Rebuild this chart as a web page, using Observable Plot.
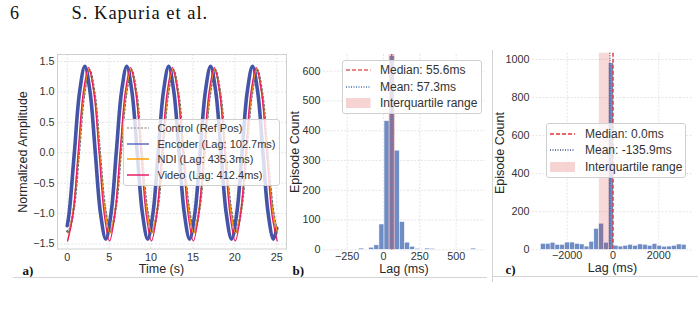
<!DOCTYPE html>
<html><head><meta charset="utf-8">
<script src="https://cdn.jsdelivr.net/npm/d3@7"></script>
<script src="https://cdn.jsdelivr.net/npm/@observablehq/plot@0.6"></script>
<style>
body{margin:0;background:#fff;}
#page{position:relative;width:698px;height:313px;overflow:hidden;font-family:"Liberation Sans",Arial,sans-serif;color:#262626;}
#page svg{overflow:visible;}
</style></head><body><div id="page"></div>
<script>
// ---------- Panel a: time series ----------
const timeTicks = [0, 5, 10, 15, 20, 25];
const ampTicks = [-1.5, -1.0, -0.5, 0.0, 0.5, 1.0, 1.5];
const seriesNames = ["Control (Ref Pos)", "Encoder (Lag: 102.7ms)", "NDI (Lag: 435.3ms)", "Video (Lag: 412.4ms)"];

const ctlT = [0, 0.15, 0.775, 1.4, 2.025, 2.65, 3.275, 3.9, 4.525, 5.15, 5.775, 6.4, 7.025, 7.65, 8.275, 8.9, 9.525, 10.15, 10.775, 11.4, 12.025, 12.65, 13.275, 13.9, 14.525, 15.15, 15.775, 16.4, 17.025, 17.65, 18.275, 18.9, 19.525, 20.15, 20.775, 21.4, 22.025, 22.65, 23.275, 23.9, 24.525, 25.0];
const ctlV = [-1.29, -1.30, -0.92, 0, 0.96, 1.36, 0.96, 0, -0.92, -1.30, -0.92, 0, 0.96, 1.36, 0.96, 0, -0.92, -1.30, -0.92, 0, 0.96, 1.36, 0.96, 0, -0.92, -1.30, -0.92, 0, 0.96, 1.36, 0.96, 0, -0.92, -1.30, -0.92, 0, 0.96, 1.36, 0.96, 0, -0.92, -1.28];

const encT = [0, 0.225, 0.85, 1.475, 2.1, 2.725, 3.35, 3.975, 4.6, 5.225, 5.85, 6.475, 7.1, 7.725, 8.35, 8.975, 9.6, 10.225, 10.85, 11.475, 12.1, 12.725, 13.35, 13.975, 14.6, 15.225, 15.85, 16.475, 17.1, 17.725, 18.35, 18.975, 19.6, 20.225, 20.85, 21.475, 22.1, 22.725, 23.35, 23.975, 24.6, 25.0];
const encV = [-1.2, -1.0, 0, 1.0, 1.42, 1.0, 0, -1.0, -1.42, -1.0, 0, 1.0, 1.42, 1.0, 0, -1.0, -1.42, -1.0, 0, 1.0, 1.42, 1.0, 0, -1.0, -1.42, -1.0, 0, 1.0, 1.42, 1.0, 0, -1.0, -1.42, -1.0, 0, 1.0, 1.42, 1.0, 0, -1.0, -1.42, -1.24];

const ndiT = [0.1, 0.725, 1.35, 1.975, 2.6, 3.225, 3.85, 4.475, 5.1, 5.725, 6.35, 6.975, 7.6, 8.225, 8.85, 9.475, 10.1, 10.725, 11.35, 11.975, 12.6, 13.225, 13.85, 14.475, 15.1, 15.725, 16.35, 16.975, 17.6, 18.225, 18.85, 19.475, 20.1, 20.725, 21.35, 21.975, 22.6, 23.225, 23.85, 24.475, 25.1];
const ndiV = [-1.42, -0.94, 0, 0.97, 1.37, 0.97, 0, -0.94, -1.32, -0.94, 0, 0.97, 1.37, 0.97, 0, -0.94, -1.32, -0.94, 0, 0.97, 1.37, 0.97, 0, -0.94, -1.32, -0.94, 0, 0.97, 1.37, 0.97, 0, -0.94, -1.32, -0.94, 0, 0.97, 1.37, 0.97, 0, -0.94, -1.32];

const vidT = [0.05, 0.675, 1.3, 1.925, 2.55, 3.175, 3.8, 4.425, 5.05, 5.675, 6.3, 6.925, 7.55, 8.175, 8.8, 9.425, 10.05, 10.675, 11.3, 11.925, 12.55, 13.175, 13.8, 14.425, 15.05, 15.675, 16.3, 16.925, 17.55, 18.175, 18.8, 19.425, 20.05, 20.675, 21.3, 21.925, 22.55, 23.175, 23.8, 24.425, 25.05];
const vidV = [-1.45, -1.02, 0, 1.0, 1.40, 1.0, 0, -1.02, -1.45, -1.02, 0, 1.0, 1.40, 1.0, 0, -1.02, -1.45, -1.02, 0, 1.0, 1.40, 1.0, 0, -1.02, -1.45, -1.02, 0, 1.0, 1.40, 1.0, 0, -1.02, -1.45, -1.02, 0, 1.0, 1.40, 1.0, 0, -1.02, -1.45];

// ---------- Panel b: encoder lag histogram ----------
const bEdges = [-343, -308, -273, -238, -203, -168, -133, -98, -63, -28, 7, 42, 77, 112, 147, 182, 217, 252, 287, 322, 357, 392, 427, 462, 497, 532, 567, 602, 637];
const bCounts = [1, 0, 0, 0, 0, 4, 0, 7, 15, 85, 432, 650, 333, 93, 24, 10, 3, 0, 4, 3, 0, 0, 0, 0, 0, 0, 0, 4];
const bXTicks = [-250, 0, 250, 500];
const bYTicks = [0, 100, 200, 300, 400, 500, 600];
const bMedian = 55.6, bMean = 57.3, bIQR = [38, 82];
const bLabels = ["Median: 55.6ms", "Mean: 57.3ms", "Interquartile range"];

// ---------- Panel c: video lag histogram ----------
const cEdges = [-3148, -2936, -2724, -2512, -2300, -2088, -1876, -1664, -1452, -1240, -1028, -816, -604, -392, -180, 32, 244, 456, 668, 880, 1092, 1304, 1516, 1728, 1940, 2152, 2364, 2576, 2788, 3000, 3212];
const cCounts = [31, 31, 37, 26, 26, 38, 38, 31, 28, 17, 42, 110, 137, 37, 980, 21, 17, 21, 26, 21, 28, 26, 21, 30, 21, 16, 17, 21, 28, 26];
const cXTicks = [-2000, 0, 2000];
const cYTicks = [0, 200, 400, 600, 800, 1000];
const cMedian = 0.0, cMean = -135.9, cIQR = [-598, -125];
const cLabels = ["Median: 0.0ms", "Mean: -135.9ms", "Interquartile range"];

// ---------- helpers ----------
const page = document.getElementById("page");
const SANS = '"Liberation Sans", Arial, sans-serif';
const SERIF = '"Liberation Serif", "Times New Roman", serif';
const GRID = "#dedede";
const BAR = "#6f8dc4";
const minus = d => d < 0 ? "\u2212" + Math.abs(d) : String(d);

function txt(s, x, y, o = {}) {
  const d = document.createElement("div");
  d.textContent = s;
  d.style.cssText = `position:absolute;left:${x}px;top:${y}px;white-space:nowrap;line-height:1;` +
    `font-size:${o.size || 12}px;font-family:${o.font || SANS};color:${o.color || "#262626"};` +
    `font-weight:${o.weight || "normal"};letter-spacing:${o.ls || 0}px;transform:${o.tf || "translate(-50%,-50%)"};transform-origin:center;`;
  page.appendChild(d);
}
function hline(x1, x2, y) {
  const d = document.createElement("div");
  d.style.cssText = `position:absolute;left:${x1}px;top:${y}px;width:${x2 - x1}px;height:1px;background:#d4d4d4;`;
  page.appendChild(d);
}
function vline(x, y1, y2) {
  const d = document.createElement("div");
  d.style.cssText = `position:absolute;left:${x}px;top:${y1}px;width:1px;height:${y2 - y1}px;background:#d4d4d4;`;
  page.appendChild(d);
}
function place(svg, left, top) {
  svg.style.position = "absolute";
  svg.style.left = left + "px";
  svg.style.top = top + "px";
  page.appendChild(svg);
}
function legend(box, rows, o) {
  const b = document.createElement("div");
  b.style.cssText = `position:absolute;left:${box[0]}px;top:${box[1]}px;width:${box[2]}px;height:${box[3]}px;` +
    `background:rgba(255,255,255,0.8);border:1px solid #d0d0d0;border-radius:3px;box-sizing:border-box;`;
  page.appendChild(b);
  rows.forEach((r, i) => {
    const y = o.rowY[i];
    const w = o.sx1 - o.sx0;
    const s = document.createElementNS("http://www.w3.org/2000/svg", "svg");
    s.setAttribute("width", w); s.setAttribute("height", 14);
    s.style.cssText = `position:absolute;left:${o.sx0}px;top:${y - 7}px;overflow:visible;`;
    if (r.type === "rect") {
      s.innerHTML = `<rect x="0" y="2" width="${w}" height="10" fill="${r.color}" fill-opacity="${r.op || 1}"/>`;
    } else {
      s.innerHTML = `<line x1="0" x2="${w}" y1="7" y2="7" stroke="${r.color}" stroke-width="${r.width || 1.5}" stroke-dasharray="${r.dash || "none"}"/>`;
    }
    page.appendChild(s);
    txt(r.label, o.tx, y, {size: o.size, tf: "translate(0,-50%)", color: "#333"});
  });
}
const pts = (T, V) => T.map((t, i) => ({t, v: V[i]}));
const bins = (E, C) => C.map((n, i) => ({x1: E[i], x2: E[i + 1], n}));

// ---------- header ----------
txt("6", 10, 13, {font: SERIF, size: 18, tf: "translate(0,-50%)", color: "#111"});
txt("S. Kapuria et al.", 71.5, 13, {font: SERIF, size: 18.5, tf: "translate(0,-50%)", color: "#111", ls: 1.0});

// ---------- panel a ----------
const fmtA = d => (d < 0 ? "\u2212" : "") + Math.abs(d).toFixed(1);
const pa = Plot.plot({
  width: 290, height: 240,
  marginLeft: 57, marginRight: 4, marginTop: 14, marginBottom: 31.5,
  style: {fontFamily: SANS, fontSize: "10.8px", color: "#333", background: "transparent"},
  x: {domain: [-1.16, 26.16], ticks: timeTicks, tickFormat: d => String(d), tickSize: 0, tickPadding: 4, label: null},
  y: {domain: [-1.582, 1.615], ticks: ampTicks, tickFormat: fmtA, tickSize: 0, tickPadding: 3, label: null},
  marks: [
    Plot.ruleX(timeTicks, {stroke: GRID, strokeWidth: 0.8, strokeDasharray: "2,1.5"}),
    Plot.ruleY(ampTicks, {stroke: GRID, strokeWidth: 0.8, strokeDasharray: "2,1.5"}),
    Plot.frame({stroke: "#cfcfcf"}),
    Plot.line(pts(ctlT, ctlV), {x: "t", y: "v", curve: "catmull-rom", stroke: "#5e5e5e", strokeWidth: 2.4, strokeDasharray: "1.2,2.8", strokeOpacity: 0.9}),
    Plot.line(pts(encT, encV), {x: "t", y: "v", curve: "catmull-rom", stroke: "#34479f", strokeWidth: 3.6, strokeOpacity: 0.92}),
    Plot.line(pts(ndiT, ndiV), {x: "t", y: "v", curve: "catmull-rom", stroke: "#ff9800", strokeWidth: 1.3}),
    Plot.line(pts(vidT, vidV), {x: "t", y: "v", curve: "catmull-rom", stroke: "#e91e63", strokeWidth: 1.3})
  ]
});
place(pa, 0, 40);
legend([122.5, 118.5, 157, 67], [
  {label: seriesNames[0], color: "#a8a8a8", dash: "2,1.5", width: 1.5},
  {label: seriesNames[1], color: "#5c6bc0", width: 1.5},
  {label: seriesNames[2], color: "#ffa000", width: 1.5},
  {label: seriesNames[3], color: "#e91e63", width: 1.5}
], {rowY: [127.5, 143.5, 159, 175], sx0: 126.5, sx1: 148.5, tx: 157.5, size: 11});
txt("Normalized Amplitude", 22.5, 151.5, {size: 12.5, tf: "translate(-50%,-50%) rotate(-90deg)"});
txt("Time (s)", 161.5, 268.5, {size: 12.5});
txt("a)", 22.5, 269.5, {font: SERIF, size: 13, weight: "bold", tf: "translate(0,-50%)", color: "#111"});

// ---------- panel b ----------
const pb = Plot.plot({
  width: 195, height: 240,
  marginLeft: 33, marginRight: 0, marginTop: 14, marginBottom: 30.7,
  style: {fontFamily: SANS, fontSize: "10.8px", color: "#333", background: "transparent"},
  x: {domain: [-413, 702], ticks: bXTicks, tickFormat: minus, tickSize: 0, tickPadding: 3, label: null},
  y: {domain: [0, 656], ticks: bYTicks, tickFormat: d => String(d), tickSize: 0, tickPadding: 3, label: null},
  marks: [
    Plot.ruleX(bXTicks, {stroke: GRID, strokeWidth: 0.8, strokeDasharray: "2,1.5"}),
    Plot.ruleY(bYTicks, {stroke: GRID, strokeWidth: 0.8, strokeDasharray: "2,1.5"}),
    Plot.rectY(bins(bEdges, bCounts), {x1: "x1", x2: "x2", y: "n", fill: BAR, stroke: "#fff", strokeWidth: 0.5}),
    Plot.rect([{a: bIQR[0], b: bIQR[1]}], {x1: "a", x2: "b", fill: "#d62728", fillOpacity: 0.18}),
    Plot.ruleX([bMedian], {stroke: "#e05a5a", strokeWidth: 1.4, strokeDasharray: "4,2"}),
    Plot.ruleX([bMean], {stroke: "#4c72b0", strokeWidth: 1.3, strokeDasharray: "1,1.5"})
  ]
});
place(pb, 290, 40);
legend([341.5, 59.5, 140.5, 54.5], [
  {label: bLabels[0], color: "#e06060", dash: "4,2", width: 1.5},
  {label: bLabels[1], color: "#4c72b0", dash: "1,1.5", width: 1.3},
  {label: bLabels[2], type: "rect", color: "#d62728", op: 0.2}
], {rowY: [70, 86.5, 103], sx0: 345.5, sx1: 370, tx: 380, size: 12});
txt("Episode Count", 295, 152, {size: 12.5, tf: "translate(-50%,-50%) rotate(-90deg)"});
txt("Lag (ms)", 404, 269, {size: 12.5});
txt("b)", 292.5, 270, {font: SERIF, size: 13, weight: "bold", tf: "translate(0,-50%)", color: "#111"});

// ---------- panel c ----------
const pc = Plot.plot({
  width: 213, height: 240,
  marginLeft: 47, marginRight: 6, marginTop: 12.7, marginBottom: 30.7,
  style: {fontFamily: SANS, fontSize: "10.8px", color: "#333", background: "transparent"},
  x: {domain: [-3515, 3472], ticks: cXTicks, tickFormat: minus, tickSize: 0, tickPadding: 2, label: null},
  y: {domain: [0, 1033], ticks: cYTicks, tickFormat: d => String(d), tickSize: 0, tickPadding: 3, label: null},
  marks: [
    Plot.ruleX(cXTicks, {stroke: GRID, strokeWidth: 0.8, strokeDasharray: "2,1.5"}),
    Plot.ruleY(cYTicks, {stroke: GRID, strokeWidth: 0.8, strokeDasharray: "2,1.5"}),
    Plot.rectY(bins(cEdges, cCounts), {x1: "x1", x2: "x2", y: "n", fill: BAR, stroke: "#fff", strokeWidth: 0.5}),
    Plot.rect([{a: cIQR[0], b: cIQR[1]}], {x1: "a", x2: "b", fill: "#d62728", fillOpacity: 0.18}),
    Plot.ruleX([cMedian], {stroke: "#e03434", strokeWidth: 1.4, strokeDasharray: "4,2"}),
    Plot.ruleX([cMean], {stroke: "#3d4f8f", strokeWidth: 1.3, strokeDasharray: "1,1.5"})
  ]
});
place(pc, 485, 40);
legend([546, 123, 140, 54.5], [
  {label: cLabels[0], color: "#e03434", dash: "4,2", width: 1.5},
  {label: cLabels[1], color: "#3d4f8f", dash: "1,1.5", width: 1.3},
  {label: cLabels[2], type: "rect", color: "#d62728", op: 0.2}
], {rowY: [133.5, 150, 166.5], sx0: 550, sx1: 575, tx: 585, size: 12});
txt("Episode Count", 500, 153, {size: 12.5, tf: "translate(-50%,-50%) rotate(-90deg)"});
txt("Lag (ms)", 612.5, 267.5, {size: 12.5});
txt("c)", 505.5, 269, {font: SERIF, size: 13, weight: "bold", tf: "translate(0,-50%)", color: "#111"});

// ---------- sub-figure borders ----------
hline(13, 289, 277);
hline(289, 487, 277);
vline(492, 50, 282);
hline(492, 698, 276);
</script></body></html>
